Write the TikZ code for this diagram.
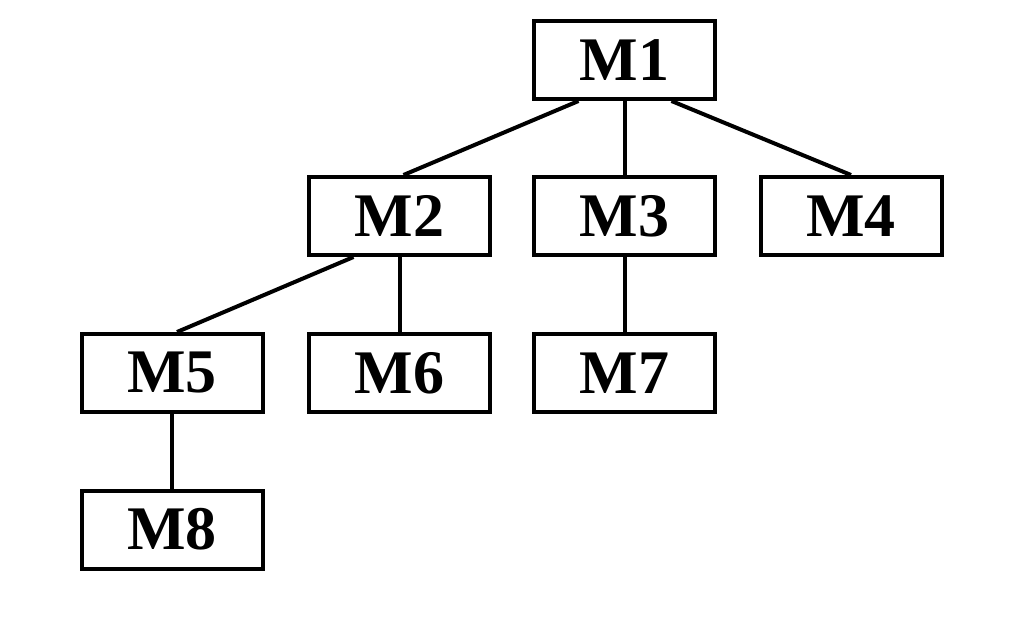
\documentclass[tikz,border=0pt]{standalone}
\usepackage{fontspec}
\setmainfont{Liberation Serif}
\usepackage{tikz}
\usetikzlibrary{calc}

\begin{document}
\begin{tikzpicture}[x=1pt,y=-1pt,font=\fontsize{62}{70}\selectfont\bfseries]
    \tikzstyle{mod}=[draw,line width=4pt,rectangle,minimum width=181pt,minimum height=78pt,inner sep=0pt]
    \tikzstyle{lnk}=[line width=4pt]

    \useasboundingbox (0,0) rectangle (1017,618);

    \node[mod] (m1) at (624.5,  60) {M1};
    \node[mod] (m2) at (399.5, 216) {M2};
    \node[mod] (m3) at (624.5, 216) {M3};
    \node[mod] (m4) at (851,   216) {M4};
    \node[mod] (m5) at (172,   373) {M5};
    \node[mod] (m6) at (399.5, 373) {M6};
    \node[mod] (m7) at (624.5, 373) {M7};
    \node[mod] (m8) at (172, 529.5) {M8};

    \draw[lnk] ($(m1.south)+(-46,0)$) -- ($(m2.north)+(4,0)$);
    \draw[lnk] (m1.south) -- (m3.north);
    \draw[lnk] ($(m1.south)+(47,0)$) -- (m4.north);
    \draw[lnk] ($(m2.south)+(-46,0)$) -- ($(m5.north)+(5,0)$);
    \draw[lnk] (m2.south) -- (m6.north);
    \draw[lnk] (m3.south) -- (m7.north);
    \draw[lnk] (m5.south) -- (m8.north);
\end{tikzpicture}
\end{document}
